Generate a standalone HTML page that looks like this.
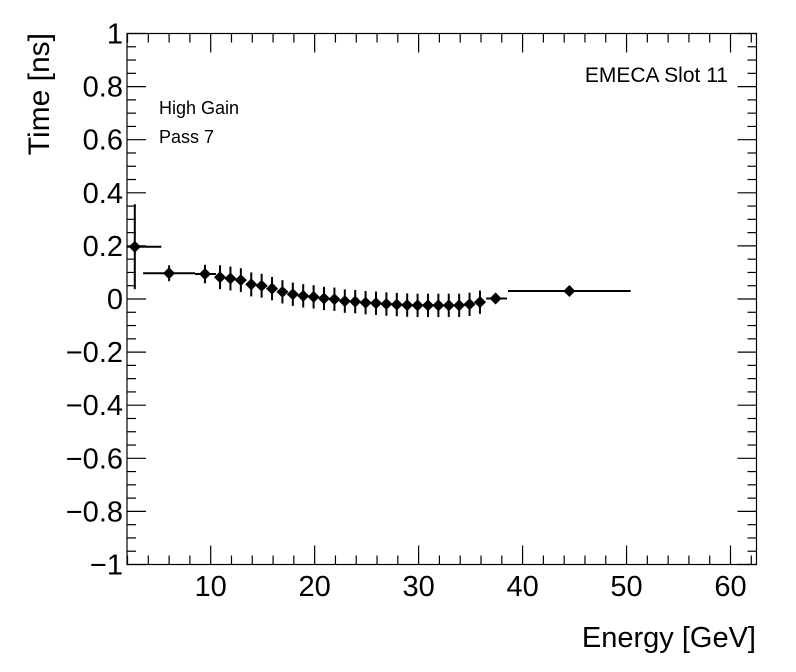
<!DOCTYPE html>
<html><head><meta charset="utf-8"><style>
html,body{margin:0;padding:0;background:#fff;}
svg{display:block;font-family:"Liberation Sans",Arial,sans-serif;}
</style></head><body>
<svg id="chart" width="796" height="672" viewBox="0 0 796 672" xmlns="http://www.w3.org/2000/svg">
<rect x="0" y="0" width="796" height="672" fill="#fff"/>
<g id="axes"></g>
<g id="marks"></g>
<text x="756" y="647" font-size="29" text-anchor="end">Energy [GeV]</text>
<text transform="translate(49,33) rotate(-90)" font-size="30" text-anchor="end">Time [ns]</text>
<text x="728" y="82" font-size="21" text-anchor="end">EMECA Slot 11</text>
<text x="159" y="114" font-size="18">High Gain</text>
<text x="159" y="143" font-size="18">Pass 7</text>
</svg>
<script>
const xCenters=[2.7,6.0,9.45,10.9,11.9,12.9,13.9,14.9,15.9,16.9,17.9,18.9,19.9,20.9,21.9,22.9,23.9,24.9,25.9,26.9,27.9,28.9,29.9,30.9,31.9,32.9,33.9,34.9,35.9,37.4,44.5];
const xLow=[1.95,3.5,8.5,10.4,11.4,12.4,13.4,14.4,15.4,16.4,17.4,18.4,19.4,20.4,21.4,22.4,23.4,24.4,25.4,26.4,27.4,28.4,29.4,30.4,31.4,32.4,33.4,34.4,35.4,36.5,38.6];
const xHigh=[5.25,8.5,10.5,11.4,12.4,13.4,14.4,15.4,16.4,17.4,18.4,19.4,20.4,21.4,22.4,23.4,24.4,25.4,26.4,27.4,28.4,29.4,30.4,31.4,32.4,33.4,34.4,35.4,36.4,38.5,50.4];
const yValues=[0.197,0.097,0.094,0.082,0.077,0.071,0.055,0.050,0.039,0.027,0.018,0.012,0.008,0.002,-0.001,-0.008,-0.010,-0.014,-0.016,-0.019,-0.021,-0.023,-0.024,-0.024,-0.024,-0.024,-0.024,-0.020,-0.012,0.002,0.030];
const yErrors=[0.16,0.03,0.035,0.045,0.045,0.045,0.045,0.045,0.044,0.044,0.044,0.044,0.044,0.044,0.044,0.044,0.044,0.044,0.044,0.044,0.044,0.044,0.044,0.044,0.044,0.044,0.044,0.044,0.044,0.02,0.01];
const xTickLabels=[10,20,30,40,50,60];
const yTickLabels=[-1,-0.8,-0.6,-0.4,-0.2,0,0.2,0.4,0.6,0.8,1];

const L=127,R=756.5,T=33.5,B=564.5,XMIN=1.95,XMAX=62.5,YMIN=-1,YMAX=1;
const sx=v=>L+(v-XMIN)/(XMAX-XMIN)*(R-L);
const sy=v=>B-(v-YMIN)/(YMAX-YMIN)*(B-T);
const NS="http://www.w3.org/2000/svg";
function mk(tag,attrs,parent){const e=document.createElementNS(NS,tag);for(const k in attrs)e.setAttribute(k,attrs[k]);parent.appendChild(e);return e;}
const ax=document.getElementById('axes'),mg=document.getElementById('marks');
const frame=mk('rect',{x:L,y:T,width:R-L,height:B-T,fill:'none',stroke:'#000','stroke-width':1.2},ax);


for(let v=2;v<=62;v+=2){
  const major=v%10===0,len=major?19:9,x=sx(v);
  const t1=mk('line',{x1:x,x2:x,y1:B,y2:B-len,stroke:'#000','stroke-width':1.2},ax);
  
  
  const t2=mk('line',{x1:x,x2:x,y1:T,y2:T+len,stroke:'#000','stroke-width':1.2},ax);
  
  
}
xTickLabels.forEach(v=>{
  const t=mk('text',{x:sx(v),y:596,'font-size':29,'text-anchor':'middle'},ax);
  t.textContent=v;
  
  
});
for(let i=0;i<=40;i++){
  const v=-1+i*0.05,major=i%4===0,len=major?19:9,y=sy(v);
  const t1=mk('line',{x1:L,x2:L+len,y1:y,y2:y,stroke:'#000','stroke-width':1.2},ax);
  
  
  const t2=mk('line',{x1:R,x2:R-len,y1:y,y2:y,stroke:'#000','stroke-width':1.2},ax);
  
  
}
yTickLabels.forEach(v=>{
  const s=(v<0?'\u2212':'')+String(Math.abs(Math.round(v*10)/10));
  const t=mk('text',{x:123,y:sy(v)+10,'font-size':29,'text-anchor':'end'},ax);
  t.textContent=s;
  
  
});
xCenters.forEach((xc,i)=>{
  const g=mk('g',{},mg);
  
  
  const cx=sx(xc),cy=sy(yValues[i]);
  mk('line',{x1:sx(xLow[i]),x2:sx(xHigh[i]),y1:cy,y2:cy,stroke:'#000','stroke-width':2},g);
  mk('line',{x1:cx,x2:cx,y1:sy(yValues[i]+yErrors[i]),y2:sy(yValues[i]-yErrors[i]),stroke:'#000','stroke-width':2},g);
  mk('path',{d:`M${cx-6},${cy} L${cx},${cy-6} L${cx+6},${cy} L${cx},${cy+6} Z`,fill:'#000'},g);
});
</script>
</body></html>
